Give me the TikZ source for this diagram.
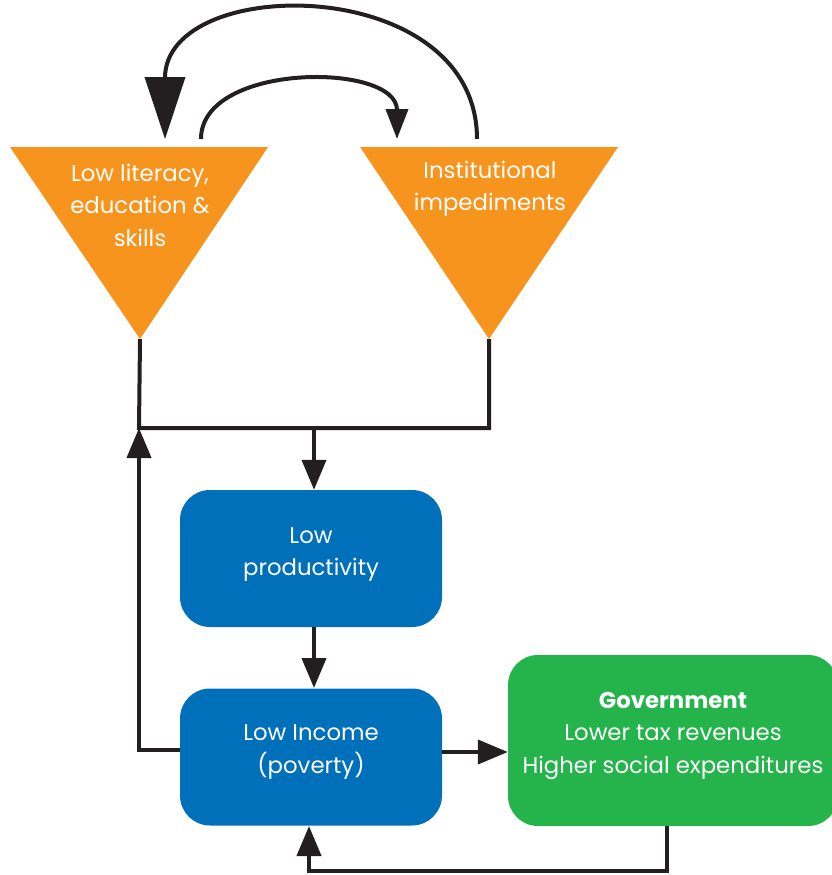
\documentclass[tikz,border=0pt]{standalone}
\usepackage{fontspec}
\setmainfont{Poppins}
\usetikzlibrary{arrows.meta,calc}
\definecolor{orng}{HTML}{F7941D}
\definecolor{blu}{HTML}{0070BA}
\definecolor{grn}{HTML}{25B34B}
\definecolor{ink}{HTML}{231F20}
\tikzset{
  conn/.style={draw=ink, line width=4pt},
  arr/.style={conn, -{Triangle[length=30pt,width=24pt]}},
  bigarr/.style={conn, -{Triangle[length=62pt,width=40pt]}},
  midarr/.style={conn, -{Triangle[length=30pt,width=22pt]}},
  txt/.style={text=white, align=center, font=\fontsize{22.8}{32.5}\selectfont, inner sep=0pt},
  bluebox/.style={fill=blu, rounded corners=30pt, minimum width=262pt, minimum height=137pt, inner sep=0pt},
  greenbox/.style={fill=grn, rounded corners=30pt, minimum width=330pt, minimum height=171pt, inner sep=0pt},
}
\begin{document}
\begin{tikzpicture}[x=1pt,y=-1pt]
\useasboundingbox (0,0) rectangle (832,875);
\clip (0,0) rectangle (832,875);
% triangles
\coordinate (t1apex) at (140,339);
\coordinate (t2apex) at (489,339);
\fill[orng] (10,147) -- (268,147) -- (t1apex) -- cycle;
\fill[orng] (360,147) -- (618,147) -- (t2apex) -- cycle;
\node[txt] (t1) at (140,205) {Low literacy,\\education \&\\skills};
\node[txt] (t2) at (490,189) {Institutional\\impediments};
\coordinate (t1top) at (165,139);
\coordinate (t1topb) at (201,139);
\coordinate (t2top) at (397,139);
\coordinate (t2topb) at (477,139);
% boxes
\node[bluebox] (prod) at (311,558.5) {};
\node[txt] at ($(prod)+(0,-4)$) {Low\\productivity};
\node[bluebox] (inc) at (311,757) {};
\node[txt] at ($(inc)+(0,-5)$) {Low Income\\(poverty)};
\node[greenbox] (gov) at (673,740.5) {};
\node[txt, anchor=north] at (673,692) {\textbf{Government}\\Lower tax revenues\\Higher social expenditures};
% connectors
\coordinate (jl) at (139,428);
\coordinate (jm) at (314,428);
\draw[conn] (t1apex) -- (jl) -- (489,428) -- (t2apex);
\draw[arr] (jm) -- (jm |- prod.north);
\draw[arr] (314,627) -- (314,688);
\draw[arr] (inc.west |- 0,750) -- (139,750) -- (jl);
\draw[arr] (inc.east |- 0,752) -- (gov.west |- 0,752);
\draw[arr] (667,826) -- (667,871) -- (309,871) -- (309,826);
% top arcs
\draw[bigarr] (t2topb) .. controls (477,-27) and (165,-27) .. (t1top);
\draw[midarr] (t1topb) .. controls (201,62) and (397,62) .. (t2top);
\end{tikzpicture}
\end{document}
